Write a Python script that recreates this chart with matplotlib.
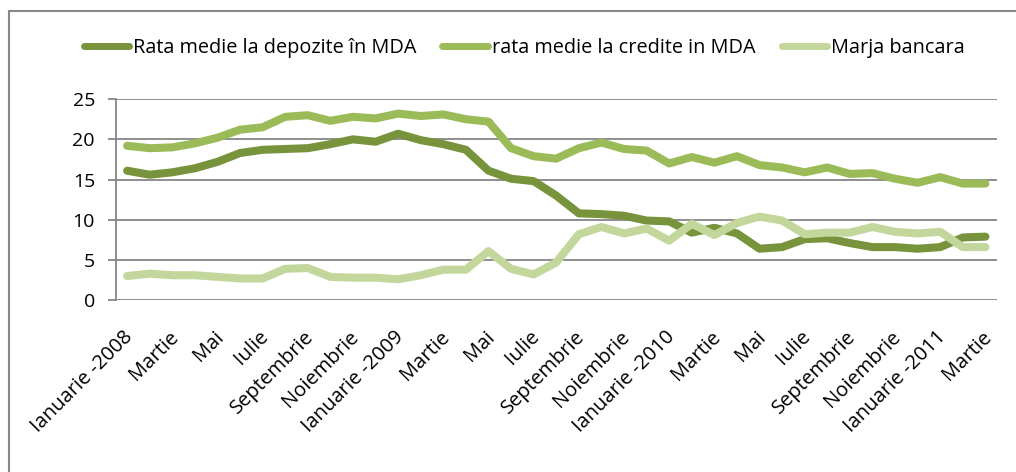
import matplotlib.pyplot as plt
from matplotlib.patches import Rectangle
from matplotlib.transforms import ScaledTranslation

# Rate lunare, ianuarie 2008 - martie 2011
luni = ["Ianuarie -2008", "Februarie", "Martie", "Aprilie", "Mai", "Iunie",
        "Iulie", "August", "Septembrie", "Octombrie", "Noiembrie", "Decembrie",
        "Ianuarie -2009", "Februarie", "Martie", "Aprilie", "Mai", "Iunie",
        "Iulie", "August", "Septembrie", "Octombrie", "Noiembrie", "Decembrie",
        "Ianuarie -2010", "Februarie", "Martie", "Aprilie", "Mai", "Iunie",
        "Iulie", "August", "Septembrie", "Octombrie", "Noiembrie", "Decembrie",
        "Ianuarie -2011", "Februarie", "Martie"]

depozite = [16.1, 15.6, 15.9, 16.4, 17.2, 18.3, 18.7, 18.8, 18.9, 19.4,
            20.0, 19.7, 20.7, 19.9, 19.4, 18.7, 16.1, 15.1, 14.8, 13.0,
            10.8, 10.7, 10.5, 9.9, 9.8, 8.4, 9.0, 8.3, 6.4, 6.6,
            7.6, 7.7, 7.1, 6.6, 6.6, 6.4, 6.6, 7.8, 7.9]

credite = [19.2, 18.9, 19.0, 19.5, 20.2, 21.2, 21.5, 22.8, 23.0, 22.3,
           22.8, 22.6, 23.2, 22.9, 23.1, 22.5, 22.2, 18.9, 17.9, 17.6,
           18.9, 19.6, 18.8, 18.6, 17.0, 17.8, 17.1, 17.9, 16.8, 16.5,
           15.9, 16.5, 15.7, 15.8, 15.1, 14.6, 15.3, 14.5, 14.5]

marja = [3.0, 3.3, 3.1, 3.1, 2.9, 2.7, 2.7, 3.9, 4.0, 2.9,
         2.8, 2.8, 2.6, 3.1, 3.8, 3.8, 6.1, 3.9, 3.2, 4.7,
         8.2, 9.1, 8.3, 8.9, 7.4, 9.5, 8.1, 9.6, 10.4, 9.9,
         8.2, 8.4, 8.4, 9.1, 8.5, 8.3, 8.5, 6.6, 6.6]

plt.rcParams['font.family'] = ['Open Sans', 'DejaVu Sans']

fig = plt.figure(figsize=(10.16, 4.72), dpi=100)
ax = fig.add_axes([0.114, 0.364, 0.867, 0.426])

x = range(len(luni))
lw = 5.8
ax.plot(x, depozite, color="#77933C", lw=lw, solid_capstyle="round",
        solid_joinstyle="round", label="Rata medie la depozite în MDA", zorder=3)
ax.plot(x, credite, color="#9BBB59", lw=lw, solid_capstyle="round",
        solid_joinstyle="round", label="rata medie la credite in MDA", zorder=3)
ax.plot(x, marja, color="#C3D69B", lw=lw, solid_capstyle="round",
        solid_joinstyle="round", label="Marja bancara", zorder=3)

ax.set_xlim(-0.5, len(luni) - 0.5)
ax.set_ylim(0, 25)
ax.set_yticks(range(0, 26, 5))
ax.set_xticks(list(x)[::2])
ax.set_xticklabels(luni[::2], rotation=45, ha="right", rotation_mode="anchor")

ax.grid(axis="y", color="#868686", lw=1.3)
ax.set_axisbelow(True)
for s in ["top", "right", "bottom"]:
    ax.spines[s].set_visible(False)
ax.spines["left"].set_color("#868686")
ax.spines["left"].set_linewidth(1.3)
ax.tick_params(axis="y", length=6, width=1.3, color="#868686", labelsize=14, pad=9)
ax.tick_params(axis="x", length=0, labelsize=14.5, pad=12)

# etichetele lunilor: usor spre stanga si in jos (dupa tick_params, care reface transformarea)
shift = ScaledTranslation(-4 / 100, -10 / 100, fig.dpi_scale_trans)
for lab in ax.get_xticklabels():
    lab.set_transform(lab.get_transform() + shift)

leg = fig.legend(loc="center", bbox_to_anchor=(0.516, 0.898), ncol=3, frameon=False,
                 fontsize=14.3, handlelength=2.3, handletextpad=0.2, columnspacing=1.3)
for h in leg.get_lines():
    h.set_linewidth(5)

# chenarul zonei graficului
fig.patches.append(Rectangle((9 / 1016, -0.05), 1.1, 1 - 11 / 472 + 0.05,
                             transform=fig.transFigure, fill=False,
                             edgecolor="#888888", lw=1.5))

fig.savefig("out.png", dpi=100)
